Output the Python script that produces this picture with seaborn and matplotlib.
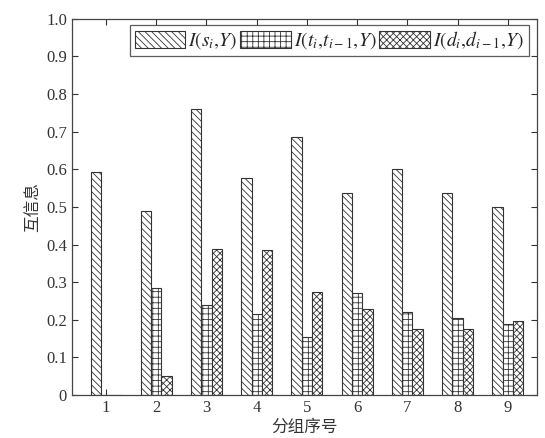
import matplotlib
matplotlib.use("Agg")
import matplotlib.pyplot as plt
import seaborn as sns
import pandas as pd
from matplotlib.patches import Patch

groups = ["1", "2", "3", "4", "5", "6", "7", "8", "9"]
s_vals = [0.593, 0.49, 0.76, 0.577, 0.685, 0.537, 0.60, 0.537, 0.50]
t_vals = [0.0, 0.285, 0.24, 0.215, 0.155, 0.27, 0.22, 0.205, 0.19]
d_vals = [0.0, 0.05, 0.387, 0.385, 0.275, 0.23, 0.175, 0.175, 0.197]
series = [r"$I(s_i,\!Y)$", r"$I(t_i,\!t_{i-1},\!Y)$", r"$I(d_i,\!d_{i-1},\!Y)$"]
yticks = [0, 0.1, 0.2, 0.3, 0.4, 0.5, 0.6, 0.7, 0.8, 0.9, 1.0]
ytick_labels = ["0", "0.1", "0.2", "0.3", "0.4", "0.5", "0.6", "0.7", "0.8", "0.9", "1.0"]

rows = []
for name, vals in zip(series, [s_vals, t_vals, d_vals]):
    for g, v in zip(groups, vals):
        rows.append({"group": g, "series": name, "value": v})
df = pd.DataFrame(rows)

sns.set_style("ticks")
plt.rcParams["font.family"] = ["Liberation Serif", "Noto Sans CJK SC", "DejaVu Sans"]
plt.rcParams["mathtext.fontset"] = "stix"
plt.rcParams["hatch.linewidth"] = 0.6
plt.rcParams["hatch.color"] = "#333333"

fig = plt.figure(figsize=(5.45, 4.38), dpi=100)
ax = fig.add_axes([0.132, 0.098, 0.853, 0.859])

sns.barplot(data=df, x="group", y="value", hue="series", order=groups,
            hue_order=series, width=0.62, gap=0.0, ax=ax, legend=False,
            palette=["white", "white", "white"],
            edgecolor="#333333", linewidth=0.8)

hatches = ["\\\\\\\\\\", "+++", "xxxxx"]
for cont, h in zip(ax.containers, hatches):
    for bar in cont:
        bar.set_hatch(h)
        bar.set_facecolor("white")
        bar.set_edgecolor("#333333")

ax.set_ylim(0, 1.0)
ax.set_xlim(-0.68, 8.58)
ax.set_yticks(yticks)
ax.set_yticklabels(ytick_labels)
ax.tick_params(direction="in", top=True, right=True, labelsize=12, length=4,
               width=0.8, colors="#333333", labelcolor="#333333")
for sp in ax.spines.values():
    sp.set_color("#444444")
    sp.set_linewidth(0.9)
    sp.set_visible(True)

ax.set_xlabel("分组序号", fontsize=12, family=["Noto Sans CJK SC"], color="#333333", labelpad=2)
ax.set_ylabel("互信息", fontsize=12, family=["Noto Sans CJK SC"], color="#333333", labelpad=4)

handles = [Patch(facecolor="white", edgecolor="#333333", hatch=h, linewidth=0.8) for h in hatches]
leg = ax.legend(handles, series, ncol=3, loc="upper right", bbox_to_anchor=(0.995, 1.0),
                fontsize=14, frameon=True, fancybox=False, edgecolor="#333333",
                handlelength=2.6, handleheight=1.0, handletextpad=0.15, columnspacing=0.15,
                borderpad=0.25, borderaxespad=0.3)
leg.get_frame().set_linewidth(0.9)

fig.savefig("out.png", dpi=100)
